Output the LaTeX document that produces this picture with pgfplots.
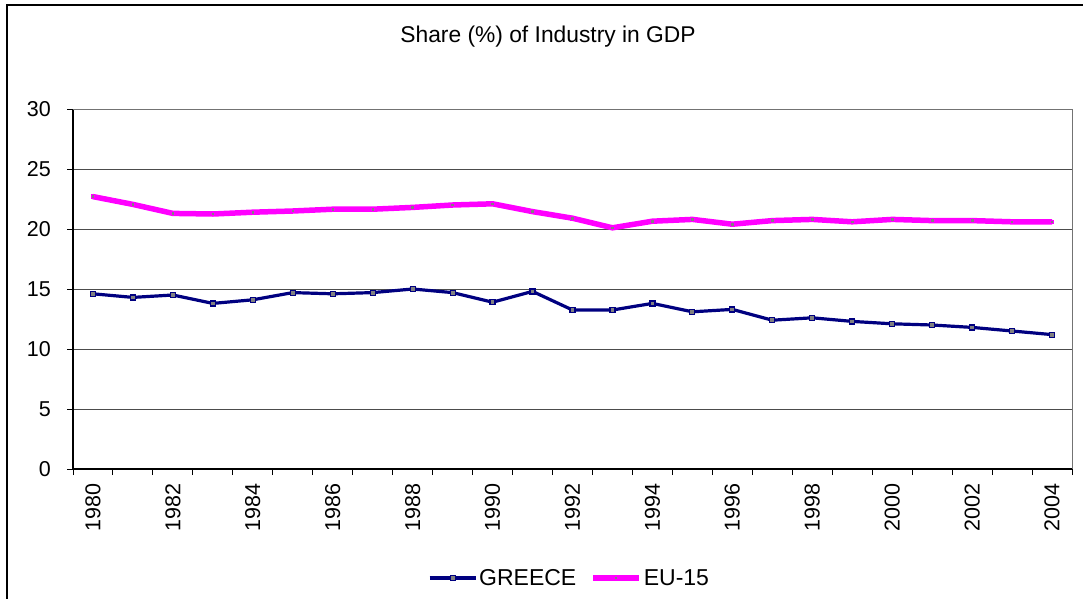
\documentclass[border=0pt]{standalone}
\usepackage{pgfplots}
\pgfplotsset{compat=1.18}
\usepackage{fontspec}
\setmainfont{Liberation Sans}
\definecolor{navyline}{RGB}{0,0,128}
\definecolor{magline}{RGB}{255,0,255}
\definecolor{markgray}{RGB}{128,128,128}

\begin{document}
\begin{tikzpicture}
\path[use as bounding box] (0,0) rectangle (1083bp,-599bp);
\draw[line width=1.5bp] (7bp,-599bp) -- (7bp,-5bp) -- (1083bp,-5bp);
\node[font=\fontsize{22.8bp}{27bp}\selectfont] at (548bp,-37bp) {Share (\%) of Industry in GDP};
\begin{axis}[
  at={(73bp,-469bp)}, anchor=south west,
  scale only axis, width=999bp, height=360bp,
  xmin=1979.5, xmax=2004.5, ymin=0, ymax=30,
  axis x line*=bottom, axis y line*=left,
  axis line style={line width=1.3bp, black},
  ytick={0,5,...,30},
  ymajorgrids, grid style={black!70, line width=0.8bp},
  xtick={1979.5,1980.5,...,2004.5}, xticklabels={},
  extra x ticks={1980,1982,...,2004},
  extra x tick style={major tick length=0pt},
  tick align=outside, major tick length=6bp,
  tick style={black, line width=1bp},
  tick label style={font=\fontsize{21.5bp}{25bp}\selectfont},
  /pgf/number format/assume math mode=true,
  /pgf/number format/1000 sep={},
  xticklabel style={yshift=-14bp, rotate=90, anchor=east, inner sep=0pt},
  yticklabel style={inner sep=0pt, xshift=-16bp},
  legend style={at={(0.497,-0.303)}, anchor=center, draw=none, fill=none,
    legend columns=2, font=\fontsize{23bp}{27bp}\selectfont,
    /tikz/every even column/.append style={column sep=12bp}},
  legend image code/.code={\draw[mark repeat=2,mark phase=2,#1] plot coordinates {(0bp,0bp) (23bp,0bp) (46bp,0bp)};},
  clip=false,
]
\draw[black!55, line width=1bp] (rel axis cs:0,1) -- (rel axis cs:1,1) -- (rel axis cs:1,0);
\addplot[navyline, line width=3.2bp, mark=square*, mark size=2.5bp,
  mark options={fill=markgray, draw=navyline, line width=1.2bp}] coordinates {
(1980,14.6) (1981,14.3) (1982,14.5) (1983,13.8) (1984,14.1) (1985,14.7)
(1986,14.6) (1987,14.7) (1988,15.0) (1989,14.7) (1990,13.9) (1991,14.8)
(1992,13.25) (1993,13.25) (1994,13.8) (1995,13.1) (1996,13.3) (1997,12.4)
(1998,12.6) (1999,12.3) (2000,12.1) (2001,12.0) (2002,11.8) (2003,11.5) (2004,11.2)
};
\addlegendentry{GREECE}
\addplot[magline, line width=5.5bp, mark=square*, mark size=1.8bp,
  mark options={fill=markgray, draw=magline, line width=0.8bp}] coordinates {
(1980,22.7) (1981,22.05) (1982,21.3) (1983,21.25) (1984,21.4) (1985,21.5)
(1986,21.65) (1987,21.65) (1988,21.8) (1989,22.0) (1990,22.1) (1991,21.45)
(1992,20.9) (1993,20.1) (1994,20.65) (1995,20.8) (1996,20.4) (1997,20.7)
(1998,20.8) (1999,20.6) (2000,20.8) (2001,20.7) (2002,20.7) (2003,20.6) (2004,20.6)
};
\addlegendentry{EU-15}
\end{axis}
\end{tikzpicture}
\end{document}
